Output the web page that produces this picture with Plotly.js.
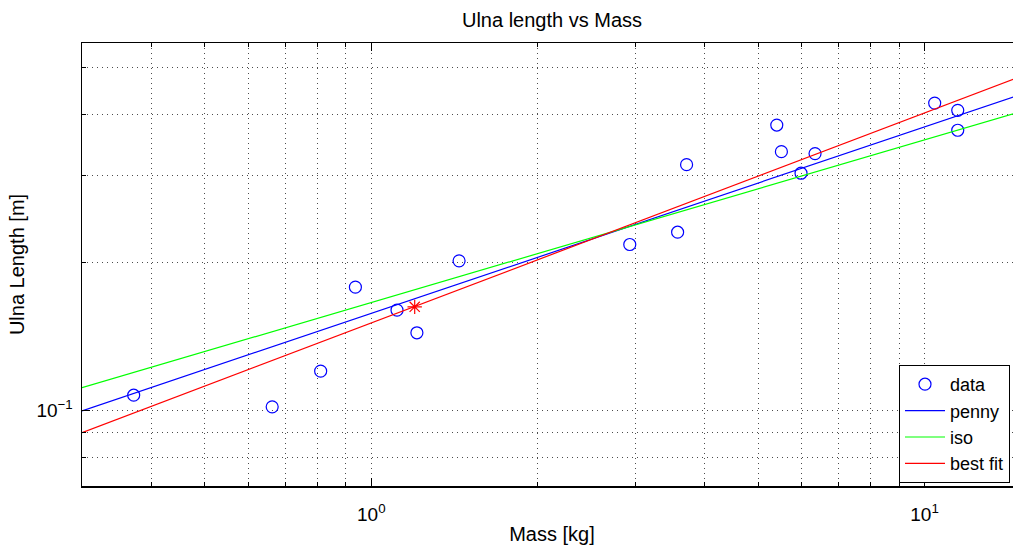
<!DOCTYPE html>
<html>
<head>
<meta charset="utf-8">
<script src="https://cdn.plot.ly/plotly-3.0.1.min.js"></script>
<style>
html,body{margin:0;padding:0;overflow:hidden;background:#fff;width:1013px;height:548px;}
#chart{width:1024px;height:548px;}
</style>
</head>
<body>
<div id="chart"></div>
<script>
// Data
const massKg = [0.372, 0.662, 0.810, 0.936, 1.113, 1.209, 1.441, 2.932, 3.578, 3.714, 5.406, 5.511, 5.980, 6.339, 10.43, 11.48, 11.48];
const ulnaM  = [0.1072, 0.1015, 0.120, 0.178, 0.1598, 0.1437, 0.2014, 0.2175, 0.2304, 0.3164, 0.381, 0.3363, 0.3039, 0.3332, 0.4224, 0.4083, 0.3718];
const starX = [1.198];
const starY = [0.1623];
const lineX = [0.3, 15];
const pennyY = [0.0996, 0.4405];
const isoY = [0.1111, 0.4066];
const bestY = [0.0899, 0.4796];
const xMajor = [1, 10];
const xMajorText = ['10<sup>0</sup>', '10<sup>1</sup>'];
const xMinor = [0.3, 0.4, 0.5, 0.6, 0.7, 0.8, 0.9, 2, 3, 4, 5, 6, 7, 8, 9];
const yMajor = [0.1];
const yMajorText = ['10<sup>−1</sup>'];
const yMinor = [0.07, 0.08, 0.09, 0.2, 0.3, 0.4, 0.5];

const FONT = 'Liberation Sans, Arial, Helvetica, sans-serif';
const traces = [
  {x: massKg, y: ulnaM, mode: 'markers', name: 'data',
   marker: {symbol: 'circle-open', size: 12, color: '#0000ff', line: {width: 1.2, color: '#0000ff'}}},
  {x: lineX, y: pennyY, mode: 'lines', name: 'penny', line: {color: '#0000ff', width: 1.2}},
  {x: lineX, y: isoY, mode: 'lines', name: 'iso', line: {color: '#00ff00', width: 1.2}},
  {x: lineX, y: bestY, mode: 'lines', name: 'best fit', line: {color: '#ff0000', width: 1.2}},
  {x: starX, y: starY, mode: 'markers', name: 'star', showlegend: false,
   marker: {symbol: 'asterisk-open', size: 12, color: '#ff0000', line: {width: 1.2, color: '#ff0000'}}}
];

const gridCommon = {showgrid: true, gridcolor: 'rgba(0,0,0,0.7)', griddash: '1px,4px', gridwidth: 1};

const layout = {
  width: 1024, height: 548,
  margin: {l: 82, r: 2, t: 43, b: 62},
  paper_bgcolor: '#fff', plot_bgcolor: '#fff',
  font: {family: FONT, size: 19, color: '#000'},
  showlegend: true,
  title: {text: 'Ulna length vs Mass', font: {family: FONT, size: 20, color: '#000'},
          xref: 'paper', x: 0.5, yref: 'container', y: 1 - 20/548, yanchor: 'middle'},
  xaxis: Object.assign({
    type: 'log', range: [Math.log10(0.3), Math.log10(15)],
    tickmode: 'array', tickvals: xMajor, ticktext: xMajorText,
    ticks: 'inside', ticklen: 8, tickwidth: 1, tickcolor: '#000',
    showline: true, linecolor: '#000', linewidth: 1.5, mirror: 'ticks',
    zeroline: false, ticklabelstandoff: 11,
    tickfont: {family: FONT, size: 19, color: '#000'},
    title: {text: 'Mass [kg]', font: {family: FONT, size: 20, color: '#000'}, standoff: 2},
    minor: Object.assign({tickmode: 'array', tickvals: xMinor, ticks: 'inside', ticklen: 4, tickcolor: '#000'}, gridCommon)
  }, gridCommon),
  yaxis: Object.assign({
    type: 'log', range: [Math.log10(0.07), Math.log10(0.56)],
    tickmode: 'array', tickvals: yMajor, ticktext: yMajorText,
    ticks: 'inside', ticklen: 8, tickwidth: 1, tickcolor: '#000',
    showline: true, linecolor: '#000', linewidth: 1.5, mirror: 'ticks',
    zeroline: false, ticklabelstandoff: 4,
    tickfont: {family: FONT, size: 19, color: '#000'},
    title: {text: 'Ulna Length [m]', font: {family: FONT, size: 20, color: '#000'}, standoff: 6},
    minor: Object.assign({tickmode: 'array', tickvals: yMinor, ticks: 'inside', ticklen: 4, tickcolor: '#000'}, gridCommon)
  }, gridCommon),
  legend: {x: (1010-82)/940, xanchor: 'right', y: 3/443, yanchor: 'bottom',
           bgcolor: '#fff', bordercolor: '#000', borderwidth: 1,
           font: {family: FONT, size: 18, color: '#000'}, tracegroupgap: 0,
           itemwidth: 40, entrywidth: 80, entrywidthmode: 'pixels'}
};

Plotly.newPlot('chart', traces, layout, {displayModeBar: false, staticPlot: true});
</script>
</body>
</html>
